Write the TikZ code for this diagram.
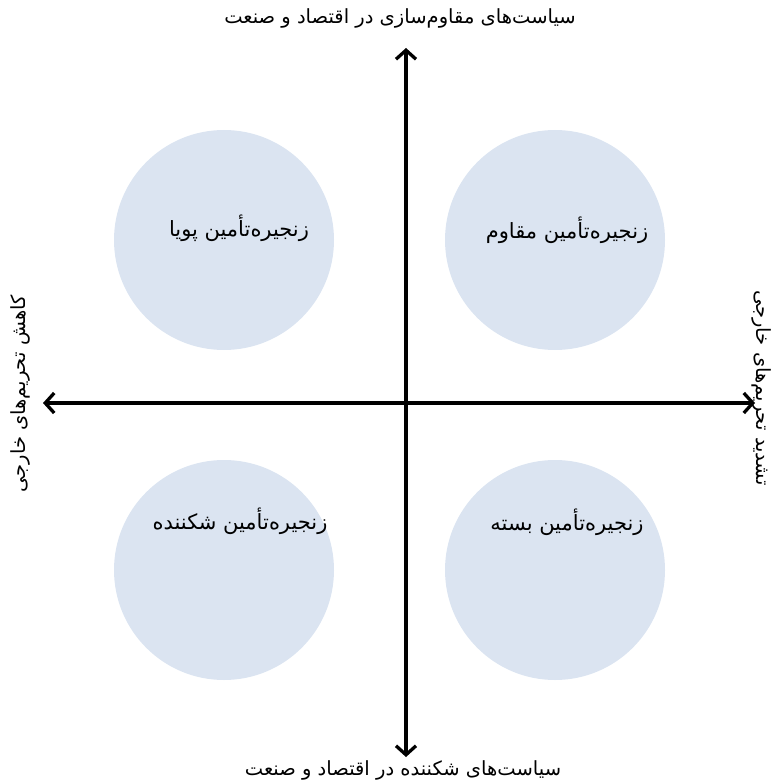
\documentclass[tikz,border=0pt]{standalone}
\usepackage{fontspec}
\TeXXeTstate=1
\newfontfamily\arabicfont[Script=Arabic]{DejaVu Sans}
\usetikzlibrary{arrows.meta}
\definecolor{circfill}{RGB}{219,228,241}
\tikzset{
  quad/.style={circle, fill=circfill, draw=none, minimum size=220pt, inner sep=0pt},
  qtext/.style={font=\arabicfont\fontsize{21pt}{25pt}\selectfont, inner sep=0pt, text=black},
  axtext/.style={font=\arabicfont\fontsize{19.5pt}{23pt}\selectfont, inner sep=0pt, text=black},
  axis/.style={line width=3.3pt, -{Straight Barb[length=9pt,width=20pt,line width=3.3pt]}},
}
\begin{document}
\begin{tikzpicture}[x=1pt,y=-1pt]
\useasboundingbox (0,0) rectangle (778,783);
% circles
\node[quad] (c1) at (224,240) {};
\node[quad] (c2) at (555,240) {};
\node[quad] (c3) at (224,570) {};
\node[quad] (c4) at (555,570) {};
% circle texts
\node[qtext] (t1) at (239,228) {\beginR زنجیره‌تأمین پویا\endR};
\node[qtext] (t2) at (567,230) {\beginR زنجیره‌تأمین مقاوم\endR};
\node[qtext] (t3) at (240,521) {\beginR زنجیره‌تأمین شکننده\endR};
\node[qtext] (t4) at (567,522) {\beginR زنجیره‌تأمین بسته\endR};
% axes
\coordinate (o) at (406,403);
\coordinate (top) at (406,48);
\coordinate (bot) at (406,757);
\coordinate (lft) at (43,403);
\coordinate (rgt) at (755,403);
\draw[axis] (o) -- (top);
\draw[axis] (o) -- (bot);
\draw[axis] (o) -- (lft);
\draw[axis] (o) -- (rgt);
% axis labels
\node[axtext] (lt) at (400,18) {\beginR سیاست‌های مقاوم‌سازی در اقتصاد و صنعت\endR};
\node[axtext] (lb) at (403,770) {\beginR سیاست‌های شکننده در اقتصاد و صنعت\endR};
\node[axtext, rotate=90] (ll) at (20,394) {\beginR کاهش تحریم‌های خارجی\endR};
\node[axtext, rotate=-90] (lr) at (762,388) {\beginR تشدید تحریم‌های خارجی\endR};
\end{tikzpicture}
\end{document}
